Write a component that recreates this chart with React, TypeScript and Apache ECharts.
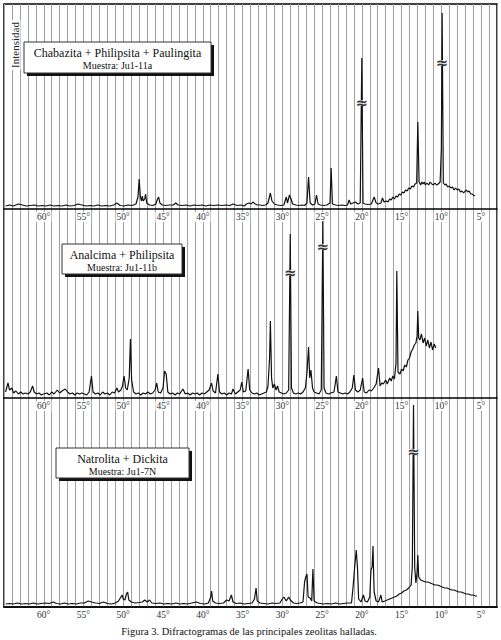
import React, { useEffect, useRef } from "react";
import * as echarts from "echarts";

const FONT = "Liberation Serif, Times New Roman, serif";

// 2θ axis
const X_MIN = 3;
const X_MAX = 65;
const LABEL_TICKS = [60, 55, 50, 45, 40, 35, 30, 25, 20, 15, 10, 5];

const TITLES = [
  "Chabazita + Philipsita + Paulingita",
  "Analcima + Philipsita",
  "Natrolita + Dickita",
];
const SAMPLES = ["Muestra: Ju1-11a", "Muestra: Ju1-11b", "Muestra: Ju1-7N"];
const Y_LABEL = "Intensidad";
const CAPTION = "Figura 3. Difractogramas de las principales zeolitas halladas.";

// [2θ, intensity (a.u.)]
const p1Data: [number, number][] = [
  [64.8, 3], [64.3, 4], [63.8, 3], [63.2, 5], [62.7, 4], [62.2, 3], [61.7, 3.5], [61.2, 4],
  [60.7, 3], [60.2, 3.5], [59.7, 3], [59.2, 4], [58.7, 3], [58.2, 3.5], [57.7, 3], [57.2, 4],
  [56.7, 3], [56.2, 3.5], [55.7, 5], [55.2, 4], [54.7, 3], [54.2, 3.5], [53.7, 3], [53.2, 4],
  [52.7, 3], [52.2, 3.5], [51.7, 3], [51.2, 4], [50.8, 6], [50.4, 3.5], [49.9, 3], [49.4, 4],
  [48.9, 3.5], [48.4, 5], [48.15, 12], [48.0, 30], [47.85, 12], [47.7, 8], [47.6, 13], [47.5, 8],
  [47.3, 10], [47.2, 15], [47.05, 6], [46.7, 4], [46.3, 3.5], [45.9, 5], [45.7, 10], [45.55, 12],
  [45.4, 6], [45.1, 4], [44.7, 3.5], [44.2, 4], [43.7, 4], [43.4, 6], [43.1, 4], [42.6, 3.5],
  [42.1, 4], [41.6, 3], [41.1, 4], [40.6, 3.5], [40.1, 4], [39.6, 3], [39.1, 4], [38.6, 3.5],
  [38.1, 4], [37.6, 3.5], [37.1, 4], [36.6, 3.5], [36.2, 5], [35.7, 3.5], [35.2, 4], [34.8, 3],
  [34.5, 5], [34.2, 6], [33.9, 5], [33.7, 7], [33.4, 5], [33.1, 4], [32.8, 4], [32.5, 3.5],
  [32.1, 4], [31.8, 6], [31.5, 16], [31.3, 8], [31.0, 5], [30.6, 4], [30.2, 3.5], [29.8, 4],
  [29.5, 12], [29.35, 6], [29.1, 14], [28.9, 10], [28.7, 5], [28.3, 4], [27.9, 3.5], [27.5, 4],
  [27.2, 3.5], [26.9, 6], [26.7, 32], [26.5, 6], [26.2, 4], [25.9, 5], [25.7, 14], [25.5, 5],
  [25.2, 4], [24.8, 3.5], [24.4, 4], [24.0, 6], [23.86, 41], [23.7, 5], [23.3, 4], [22.9, 3.5],
  [22.5, 4], [22.1, 3.5], [21.8, 4], [21.6, 9], [21.4, 5], [21.1, 6], [20.8, 7], [20.5, 5],
  [20.2, 6], [20.0, 151], [19.85, 6], [19.6, 5], [19.2, 4.5], [18.8, 5], [18.45, 12], [18.2, 6],
  [17.9, 5], [17.6, 6], [17.4, 11], [17.2, 7], [16.9, 8], [16.7, 7], [16.5, 10], [16.3, 9],
  [16.1, 12], [15.9, 10], [15.7, 13], [15.5, 12], [15.3, 15], [15.1, 14], [14.9, 17], [14.7, 16],
  [14.5, 19], [14.3, 18], [14.1, 21], [13.9, 20], [13.7, 23], [13.5, 22], [13.3, 25], [13.1, 26],
  [12.96, 87], [12.8, 27], [12.6, 24], [12.45, 27], [12.3, 25], [12.15, 27], [12.0, 24], [11.8, 26],
  [11.6, 24], [11.4, 27], [11.2, 25], [11.0, 24], [10.8, 26], [10.6, 24], [10.4, 25], [10.15, 27],
  [10.0, 60], [9.9, 196], [9.75, 26], [9.55, 24], [9.4, 25], [9.2, 22], [9.0, 23], [8.8, 21],
  [8.6, 22], [8.4, 19], [8.2, 21], [8.0, 19], [7.8, 20], [7.6, 17], [7.4, 18], [7.2, 16],
  [7.0, 18], [6.85, 19], [6.7, 17], [6.5, 18], [6.3, 15], [6.1, 15], [5.9, 13], [5.8, 14],
];

const p2Data: [number, number][] = [
  [64.8, 6], [64.5, 15], [64.3, 8], [64.0, 10], [63.8, 5], [63.5, 7], [63.2, 4], [62.9, 6],
  [62.6, 4], [62.3, 5], [62.0, 4], [61.7, 6], [61.4, 12], [61.2, 6], [60.9, 4], [60.6, 5],
  [60.3, 3], [60.0, 4], [59.6, 5], [59.3, 3], [59.0, 6], [58.7, 4], [58.3, 8], [58.0, 5],
  [57.7, 7], [57.3, 9], [57.0, 6], [56.7, 4], [56.4, 5], [56.1, 3], [55.8, 5], [55.5, 4],
  [55.2, 5], [54.9, 4], [54.6, 3], [54.3, 6], [54.0, 22], [53.8, 6], [53.5, 4], [53.2, 5],
  [52.9, 3], [52.6, 6], [52.3, 4], [52.0, 5], [51.7, 3], [51.4, 6], [51.1, 5], [50.8, 10],
  [50.6, 6], [50.3, 8], [50.1, 12], [49.9, 22], [49.7, 10], [49.5, 8], [49.25, 20], [49.1, 59],
  [48.95, 18], [48.7, 6], [48.4, 4], [48.1, 5], [47.8, 3], [47.5, 5], [47.2, 4], [46.9, 6],
  [46.6, 4], [46.3, 5], [46.0, 8], [45.8, 15], [45.6, 6], [45.3, 5], [45.0, 10], [44.8, 27],
  [44.6, 24], [44.4, 6], [44.1, 4], [43.8, 5], [43.5, 3], [43.2, 5], [42.9, 4], [42.5, 9],
  [42.2, 4], [41.9, 5], [41.6, 3], [41.3, 5], [41.0, 4], [40.7, 5], [40.4, 3], [40.1, 5],
  [39.8, 4], [39.5, 6], [39.2, 8], [38.9, 15], [38.7, 7], [38.4, 5], [38.1, 24], [37.9, 6],
  [37.6, 4], [37.3, 5], [37.0, 3], [36.7, 5], [36.4, 4], [36.2, 9], [35.9, 4], [35.6, 6],
  [35.3, 8], [35.1, 16], [34.9, 6], [34.6, 7], [34.3, 29], [34.1, 8], [33.8, 5], [33.5, 4],
  [33.2, 5], [32.9, 3], [32.6, 4], [32.3, 5], [32.0, 6], [31.8, 12], [31.6, 40], [31.5, 77],
  [31.35, 20], [31.2, 10], [31.0, 14], [30.8, 8], [30.6, 12], [30.4, 6], [30.1, 5], [29.8, 4],
  [29.5, 5], [29.2, 8], [29.0, 164], [28.85, 10], [28.6, 5], [28.3, 4], [28.0, 5], [27.7, 4],
  [27.4, 6], [27.1, 10], [26.9, 25], [26.7, 51], [26.55, 20], [26.4, 28], [26.2, 10], [26.0, 6],
  [25.7, 5], [25.4, 4], [25.1, 8], [24.9, 177], [24.75, 10], [24.5, 5], [24.2, 4], [23.9, 5],
  [23.5, 6], [23.2, 22], [23.0, 6], [22.7, 5], [22.4, 4], [22.1, 5], [21.8, 4], [21.5, 6],
  [21.2, 10], [21.0, 23], [20.8, 8], [20.5, 6], [20.2, 8], [19.9, 20], [19.7, 6], [19.4, 5],
  [19.1, 8], [18.8, 7], [18.5, 10], [18.2, 14], [17.9, 30], [17.7, 12], [17.5, 15], [17.3, 14],
  [17.0, 18], [16.8, 14], [16.5, 20], [16.3, 17], [16.1, 22], [15.9, 19], [15.7, 35], [15.6, 127],
  [15.45, 26], [15.2, 24], [15.0, 29], [14.8, 27], [14.6, 33], [14.4, 31], [14.2, 38], [14.0, 40],
  [13.8, 46], [13.6, 49], [13.4, 53], [13.2, 55], [13.05, 62], [12.96, 87], [12.85, 60], [12.7, 58],
  [12.5, 64], [12.3, 55], [12.1, 60], [11.9, 52], [11.7, 58], [11.5, 50], [11.3, 56], [11.1, 48],
  [10.9, 54], [10.7, 50],
];

const p3Data: [number, number][] = [
  [64.8, 3], [64.3, 3.5], [63.8, 3], [63.3, 4], [62.8, 3], [62.3, 3.5], [61.8, 3], [61.3, 4],
  [60.8, 3], [60.3, 3.5], [59.8, 4], [59.3, 3.5], [58.8, 5], [58.4, 3.5], [57.9, 3], [57.4, 4],
  [56.9, 3], [56.4, 3.5], [55.9, 3], [55.4, 4], [54.9, 4], [54.4, 6], [54.0, 5], [53.5, 4],
  [53.0, 3.5], [52.5, 5], [52.0, 3.5], [51.5, 3], [51.0, 4], [50.6, 6], [50.3, 10], [50.15, 12],
  [50.0, 8], [49.8, 7], [49.6, 13], [49.45, 15], [49.3, 7], [49.0, 5], [48.5, 4], [48.0, 4.5],
  [47.6, 5], [47.3, 7], [47.0, 5], [46.7, 7], [46.4, 4], [45.9, 3.5], [45.4, 4], [44.9, 3],
  [44.4, 3.5], [43.9, 3], [43.4, 4], [42.9, 3], [42.4, 3.5], [41.9, 3], [41.4, 4], [40.8, 5],
  [40.3, 3.5], [39.8, 3], [39.3, 4], [39.0, 10], [38.9, 16], [38.75, 6], [38.4, 4], [37.9, 3.5],
  [37.4, 4], [37.0, 7], [36.7, 6], [36.4, 12], [36.2, 5], [35.8, 3.5], [35.3, 4], [34.8, 3],
  [34.3, 3.5], [33.8, 4], [33.5, 8], [33.3, 19], [33.15, 6], [32.8, 4], [32.3, 3.5], [31.8, 3],
  [31.3, 4], [30.8, 3.5], [30.3, 4], [30.0, 8], [29.8, 10], [29.5, 6], [29.2, 10], [29.0, 7],
  [28.6, 4], [28.2, 3.5], [27.8, 4], [27.4, 5], [27.2, 25], [27.05, 30], [26.9, 33], [26.75, 10],
  [26.5, 9], [26.3, 6], [26.15, 38], [26.0, 6], [25.6, 4], [25.2, 3.5], [24.8, 3], [24.3, 3.5],
  [23.8, 3], [23.3, 4], [22.8, 3], [22.3, 3.5], [21.8, 4], [21.3, 4], [21.1, 20], [20.9, 40],
  [20.7, 57], [20.55, 40], [20.4, 8], [20.1, 5], [19.8, 12], [19.6, 6], [19.3, 5], [19.0, 10],
  [18.85, 37], [18.7, 40], [18.6, 61], [18.45, 15], [18.2, 6], [17.9, 5], [17.6, 12], [17.45, 5],
  [17.1, 6], [16.8, 7], [16.5, 8], [16.2, 9], [15.9, 10], [15.6, 11], [15.3, 13], [15.0, 14],
  [14.7, 16], [14.4, 17], [14.1, 19], [13.8, 22], [13.65, 40], [13.5, 202], [13.35, 40], [13.2, 24],
  [13.05, 35], [12.96, 52], [12.85, 30], [12.6, 27], [12.3, 26], [12.0, 25], [11.7, 25], [11.4, 24],
  [11.1, 23], [10.8, 22], [10.5, 22], [10.2, 21], [9.9, 20], [9.6, 19], [9.3, 19], [9.0, 18],
  [8.7, 17], [8.4, 17], [8.1, 16], [7.8, 15], [7.5, 15], [7.2, 14], [6.9, 13], [6.6, 13],
  [6.3, 12], [6.0, 12], [5.7, 11], [5.5, 11],
];

// axis-break marks on truncated peaks [2θ, intensity]
const breaks1: [number, number][] = [[20.0, 106], [9.9, 146]];
const breaks2: [number, number][] = [[29.0, 125], [24.9, 151]];
const breaks3: [number, number][] = [[13.5, 155]];

const SERIES = [p1Data, p2Data, p3Data];
const BREAKS = [breaks1, breaks2, breaks3];

// layout (px)
const W = 501;
const H = 640;
const LEFT = 4;
const RIGHT = 4;
const PANEL_TOP = [4, 209, 398];
const PANEL_H = [205, 189, 209];
const BOXES = [
  { x: 24, y: 42, w: 187, h: 31 },
  { x: 62, y: 244, w: 120, h: 30 },
  { x: 56, y: 448, w: 133, h: 30 },
];

export default function App() {
  const ref = useRef<HTMLDivElement>(null);

  useEffect(() => {
    document.body.style.margin = "0";
    if (!ref.current) return;
    const chart = echarts.init(ref.current, undefined, { renderer: "svg" });

    const grids: any[] = PANEL_TOP.map((t, i) => ({
      left: LEFT,
      right: RIGHT,
      top: t,
      height: PANEL_H[i],
      containLabel: false,
    }));
    grids.push({
      left: LEFT,
      right: RIGHT,
      top: 4,
      height: 603,
      show: true,
      borderColor: "#000",
      borderWidth: 1.5,
      backgroundColor: "transparent",
      z: 0,
    });

    const xAxes: any[] = PANEL_TOP.map((_, i) => ({
      type: "value",
      gridIndex: i,
      min: X_MIN,
      max: X_MAX,
      interval: 1,
      inverse: true,
      z: 3,
      axisLine: { show: true, onZero: false, lineStyle: { color: "#000", width: 1.5 } },
      axisTick: { show: false },
      splitLine: { show: false },
      axisLabel: {
        show: true,
        interval: 0,
        margin: 3,
        showMinLabel: true,
        showMaxLabel: true,
        formatter: (v: number) => (LABEL_TICKS.includes(Math.round(v)) ? `{l|${Math.round(v)}°}` : ""),
        rich: {
          l: {
            fontFamily: FONT,
            fontSize: 9.5,
            color: "#333",
            backgroundColor: "#fff",
            padding: [0, 1, 0, 1],
          },
        },
      },
    }));
    xAxes.push({
      type: "value",
      gridIndex: 3,
      min: X_MIN,
      max: X_MAX,
      interval: 1,
      inverse: true,
      z: 0,
      axisLine: { show: false },
      axisTick: { show: false },
      axisLabel: { show: false },
      splitLine: { show: true, lineStyle: { color: "#a0a0a0", width: 1 } },
    });

    const yAxes: any[] = PANEL_H.map((h, i) => ({
      type: "value",
      gridIndex: i,
      min: 0,
      max: h,
      show: false,
    }));
    yAxes.push({ type: "value", gridIndex: 3, min: 0, max: 1, show: false });

    const series: any[] = [];
    SERIES.forEach((d, i) => {
      series.push({
        type: "line",
        xAxisIndex: i,
        yAxisIndex: i,
        data: d,
        showSymbol: false,
        symbol: "none",
        lineStyle: { color: "#111", width: 1.2 },
        z: 4,
      });
      series.push({
        type: "scatter",
        xAxisIndex: i,
        yAxisIndex: i,
        data: BREAKS[i],
        symbol: "rect",
        symbolSize: [10, 6],
        itemStyle: { color: "#fff" },
        z: 5,
        label: {
          show: true,
          position: "inside",
          formatter: "≈",
          fontFamily: "DejaVu Sans",
          fontSize: 15,
          fontWeight: "bold",
          color: "#000",
        },
      });
    });

    const graphic: any[] = [];
    BOXES.forEach((b, i) => {
      graphic.push({
        type: "rect",
        z: 10,
        shape: { x: b.x + 3, y: b.y + 3, width: b.w, height: b.h },
        style: { fill: "#111" },
      });
      graphic.push({
        type: "rect",
        z: 11,
        shape: { x: b.x, y: b.y, width: b.w, height: b.h },
        style: { fill: "#fff", stroke: "#333", lineWidth: 1 },
      });
      graphic.push({
        type: "text",
        z: 12,
        x: b.x + b.w / 2,
        y: b.y + 11,
        style: {
          text: TITLES[i],
          fontFamily: FONT,
          fontSize: 12,
          fill: "#111",
          align: "center",
          verticalAlign: "middle",
        },
      });
      graphic.push({
        type: "text",
        z: 12,
        x: b.x + b.w / 2,
        y: b.y + 23.5,
        style: {
          text: SAMPLES[i],
          fontFamily: FONT,
          fontSize: 10,
          fill: "#111",
          align: "center",
          verticalAlign: "middle",
        },
      });
    });
    graphic.push({
      type: "text",
      z: 12,
      x: 15,
      y: 45,
      rotation: Math.PI / 2,
      style: {
        text: Y_LABEL,
        fontFamily: FONT,
        fontSize: 11,
        fill: "#222",
        align: "center",
        verticalAlign: "middle",
        backgroundColor: "#fff",
        padding: [0, 2, 0, 2],
      },
    });
    graphic.push({
      type: "text",
      z: 12,
      x: 249,
      y: 631,
      style: {
        text: CAPTION,
        fontFamily: FONT,
        fontSize: 10.5,
        fill: "#111",
        align: "center",
        verticalAlign: "middle",
      },
    });

    chart.setOption({
      animation: false,
      backgroundColor: "#fff",
      grid: grids,
      xAxis: xAxes,
      yAxis: yAxes,
      series,
      graphic,
    });

    return () => chart.dispose();
  }, []);

  return <div ref={ref} style={{ width: W, height: H }} />;
}
